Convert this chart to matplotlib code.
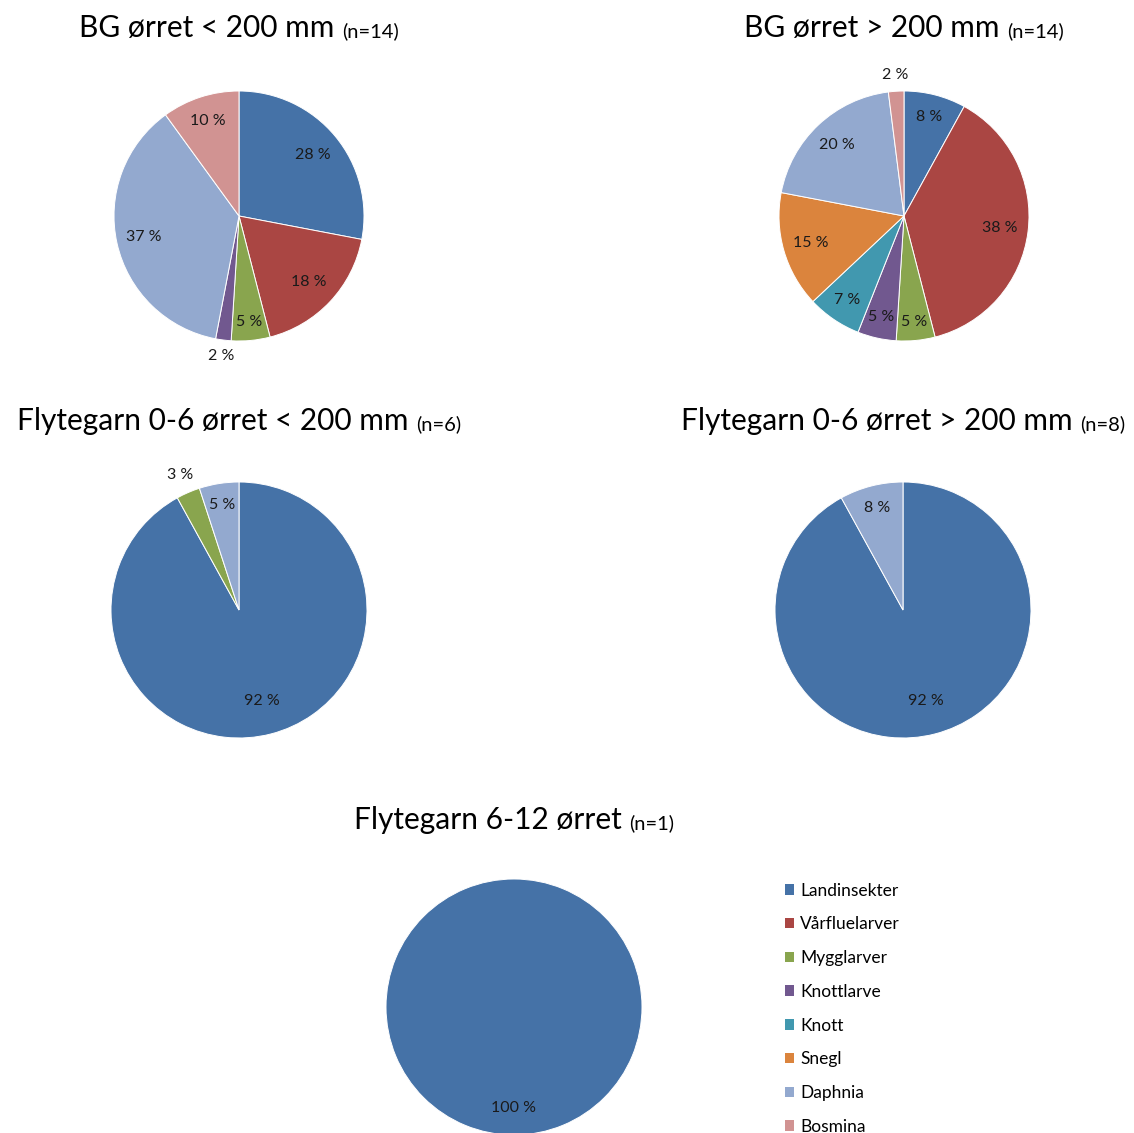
import matplotlib
matplotlib.use("Agg")
import numpy as np
import matplotlib.pyplot as plt
from matplotlib.patches import Patch

plt.rcParams["font.family"] = ["Lato", "DejaVu Sans"]

categories = ["Landinsekter", "Vårfluelarver", "Mygglarver", "Knottlarve",
              "Knott", "Snegl", "Daphnia", "Bosmina"]
colors = ["#4572A7", "#AA4643", "#89A54E", "#71588F",
          "#4198AF", "#DB843D", "#93A9CF", "#D19392"]

bg_small = [28, 18, 5, 2, 0, 0, 37, 10]
bg_large = [8, 38, 5, 5, 7, 15, 20, 2]
fly06_small = [92, 0, 3, 0, 0, 0, 5, 0]
fly06_large = [92, 0, 0, 0, 0, 0, 8, 0]
fly612 = [100, 0, 0, 0, 0, 0, 0, 0]

titles = ["BG ørret < 200 mm", "BG ørret > 200 mm",
          "Flytegarn 0-6 ørret < 200 mm", "Flytegarn 0-6 ørret > 200 mm",
          "Flytegarn 6-12 ørret"]
n_labels = ["(n=14)", "(n=14)", "(n=6)", "(n=8)", "(n=1)"]

W, H = 1134, 1133
fig = plt.figure(figsize=(W / 100, H / 100), dpi=100)

# pie centre x, centre y, radius (pixels from top-left), title baseline y
layout = [
    (239, 216, 125, 37),
    (904, 216, 125, 37),
    (239, 610, 128, 430),
    (903, 610, 128, 430),
    (514, 1007, 128, 829),
]
# label distance per category (small slices pushed outside)
label_dist = [
    [0.77, 0.77, 0.85, 1.13, 0.8, 0.8, 0.78, 0.8],
    [0.82, 0.77, 0.85, 0.83, 0.81, 0.78, 0.78, 1.13],
    [0.73, 0.8, 1.15, 0.8, 0.8, 0.8, 0.83, 0.8],
    [0.73, 0.8, 0.8, 0.8, 0.8, 0.8, 0.82, 0.8],
    [0.79, 0.8, 0.8, 0.8, 0.8, 0.8, 0.8, 0.8],
]

datasets = [bg_small, bg_large, fly06_small, fly06_large, fly612]
renderer = fig.canvas.get_renderer()

for data, title, nlab, (cx, cy, r, ty), dists in zip(datasets, titles, n_labels, layout, label_dist):
    ax = fig.add_axes([(cx - r) / W, 1 - (cy + r) / H, 2 * r / W, 2 * r / H])
    idx = [i for i, v in enumerate(data) if v > 0]
    vals = [data[i] for i in idx]
    wedges, _ = ax.pie(vals, colors=[colors[i] for i in idx], startangle=90,
                       counterclock=False,
                       wedgeprops=dict(edgecolor="white", linewidth=0.7))
    ax.set_xlim(-1, 1)
    ax.set_ylim(-1, 1)
    ax.set_aspect("equal")
    for w, i, v in zip(wedges, idx, vals):
        ang = np.deg2rad((w.theta1 + w.theta2) / 2)
        d = dists[i]
        ax.text(d * np.cos(ang), d * np.sin(ang), f"{v} %", ha="center",
                va="center", fontsize=11.5, color="#1a1a1a", clip_on=False)

    # title: big part + small (n=..) part, centred over the pie
    t1 = fig.text(0, 1 - ty / H, title + " ", fontsize=21.5, va="baseline", ha="left")
    t2 = fig.text(0, 1 - ty / H, nlab, fontsize=14.5, va="baseline", ha="left")
    w1 = t1.get_window_extent(renderer).width
    w2 = t2.get_window_extent(renderer).width
    x0 = cx - (w1 + w2) / 2
    t1.set_x(x0 / W)
    t2.set_x((x0 + w1) / W)

handles = [Patch(facecolor=c, edgecolor="none") for c in colors]
fig.legend(handles, categories, loc="upper left",
           bbox_to_anchor=(776 / W, 1 - 874 / H), frameon=False,
           fontsize=12.5, handlelength=0.55, handleheight=0.55,
           handletextpad=0.35, labelspacing=1.02, borderpad=0)

fig.savefig("out.png", dpi=100)
